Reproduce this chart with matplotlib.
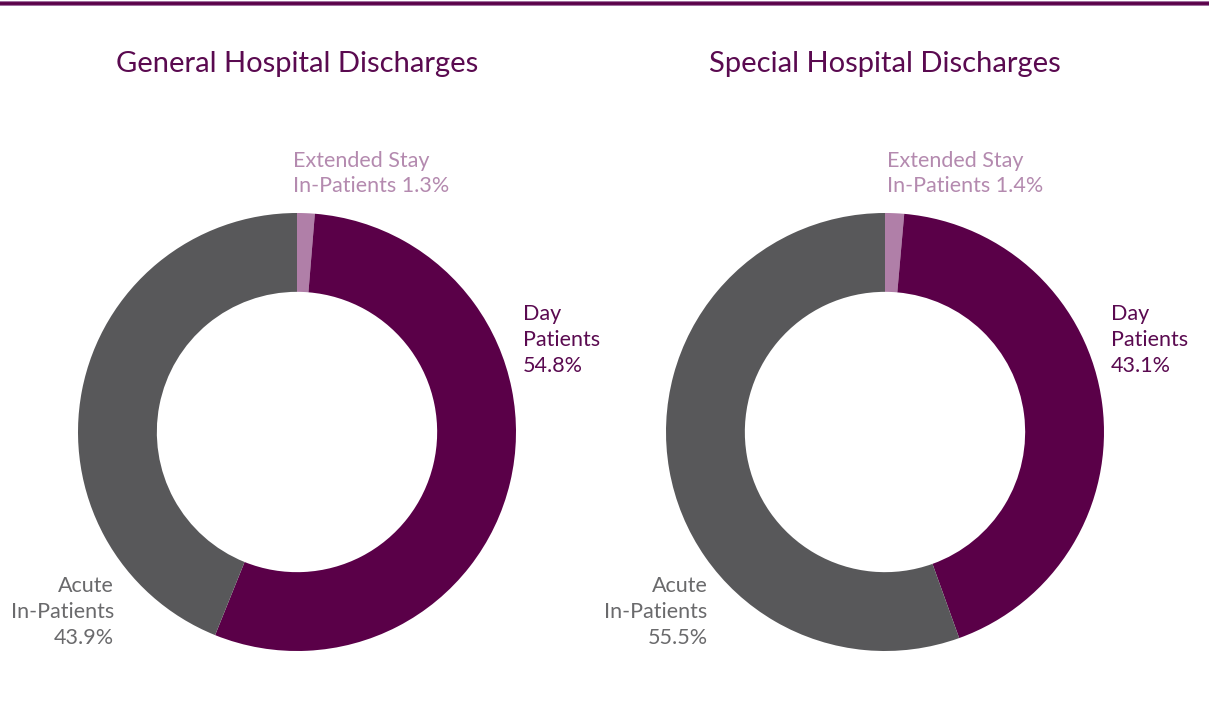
import matplotlib
matplotlib.use("Agg")
import matplotlib.pyplot as plt
from matplotlib.lines import Line2D

plt.rcParams['font.family'] = ['Lato', 'DejaVu Sans']

titles = ["General Hospital Discharges", "Special Hospital Discharges"]
categories = ["Extended Stay In-Patients", "Day Patients", "Acute In-Patients"]
general_values = [1.3, 54.8, 43.9]
special_values = [1.4, 43.1, 55.5]
colors = ["#b07fa8", "#5a0048", "#58585a"]
text_colors = ["#b48aaf", "#5a0a50", "#6a6a6c"]

W, H = 1209, 708
fig = plt.figure(figsize=(W / 100, H / 100), dpi=100)

# top rule
fig.add_artist(Line2D([0, 1], [1 - 2.5 / H, 1 - 2.5 / H], transform=fig.transFigure,
                      color="#a070a0", lw=3.6))
fig.add_artist(Line2D([0, 1], [1 - 2.5 / H, 1 - 2.5 / H], transform=fig.transFigure,
                      color="#5a0048", lw=2.0))

R = 219
centers = [(297, 432), (885, 432)]
datasets = [general_values, special_values]
label_pos = [
    {"ext": (-0.02, 1.18), "day": (1.03, 0.42), "acute": (-0.835, -0.822)},
    {"ext": (0.01, 1.18), "day": (1.03, 0.42), "acute": (-0.81, -0.822)},
]
FS = 15.5
LS = 1.35

for i, (cx, cy) in enumerate(centers):
    ax = fig.add_axes([(cx - R) / W, (H - cy - R) / H, 2 * R / W, 2 * R / H])
    vals = datasets[i]
    ax.pie(vals, colors=colors, startangle=90, counterclock=False,
           radius=1.0, wedgeprops=dict(width=0.36, linewidth=0))
    ax.set_xlim(-1, 1)
    ax.set_ylim(-1, 1)
    ax.set_aspect('equal')
    ax.axis('off')
    lp = label_pos[i]
    ax.text(lp["ext"][0], lp["ext"][1], f"Extended Stay\nIn-Patients {vals[0]}%",
            ha='left', va='center', fontsize=FS, color=text_colors[0],
            linespacing=LS, clip_on=False)
    ax.text(lp["day"][0], lp["day"][1], f"Day\nPatients\n{vals[1]}%",
            ha='left', va='center', fontsize=FS, color=text_colors[1],
            linespacing=LS, clip_on=False)
    ax.text(lp["acute"][0], lp["acute"][1], f"Acute\nIn-Patients\n{vals[2]}%",
            ha='right', va='center', fontsize=FS, color=text_colors[2],
            linespacing=LS, multialignment='right', clip_on=False)
    fig.text(cx / W, 1 - 64 / H, titles[i], ha='center', va='center',
             fontsize=21, color="#5a0a50")

fig.savefig("out.png", dpi=100)
